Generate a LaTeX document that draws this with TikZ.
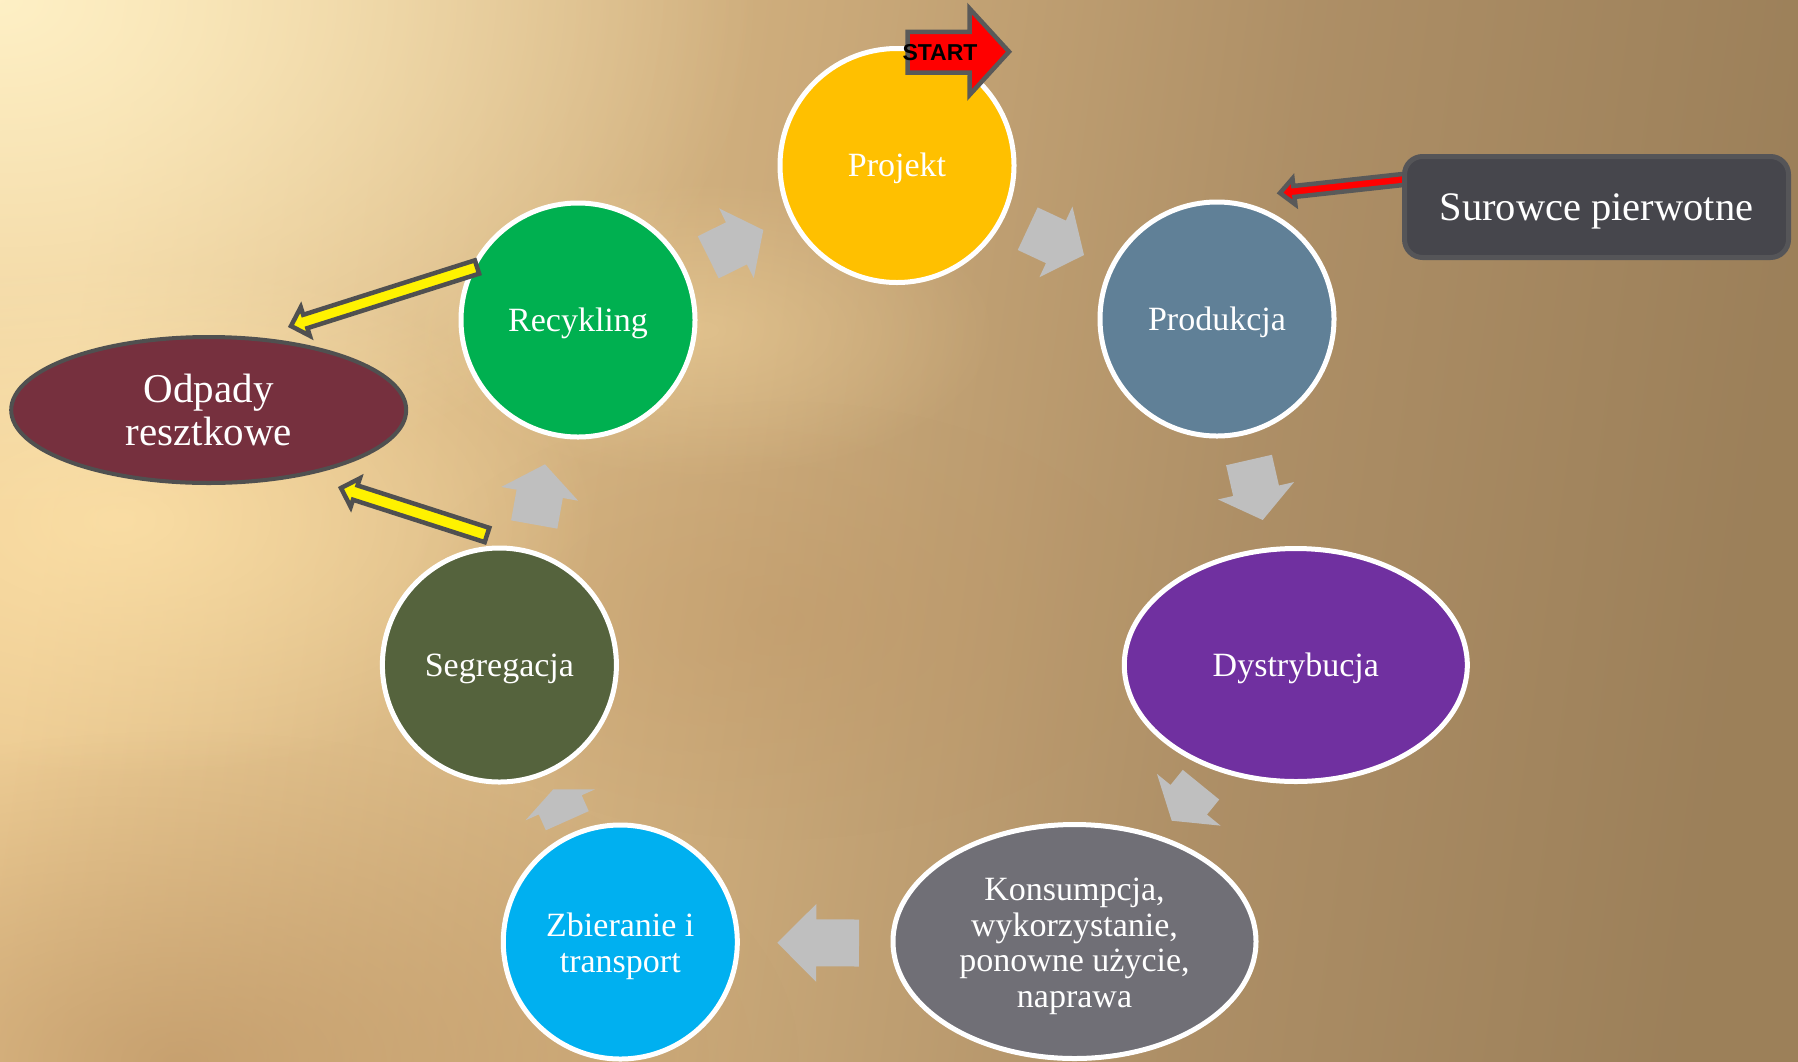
\documentclass[tikz,border=0pt]{standalone}
\usepackage{fontspec}
\setmainfont{Liberation Serif}
\newfontfamily\startfont{Liberation Sans}
\usetikzlibrary{shapes.geometric,calc,fadings}

\definecolor{cProj}{RGB}{255,192,0}
\definecolor{cProd}{RGB}{96,128,151}
\definecolor{cRec}{RGB}{0,176,80}
\definecolor{cSeg}{RGB}{85,99,61}
\definecolor{cZb}{RGB}{0,176,240}
\definecolor{cDys}{RGB}{112,48,160}
\definecolor{cKon}{RGB}{112,111,118}
\definecolor{cOdp}{RGB}{118,48,62}
\definecolor{cArr}{RGB}{191,191,191}
\definecolor{cOut}{RGB}{80,80,80}
\definecolor{cRedOut}{RGB}{89,89,89}
\definecolor{cBox}{RGB}{70,70,76}
\definecolor{cBoxB}{RGB}{85,85,88}
\definecolor{glowA}{RGB}{255,242,200}
\definecolor{glowB}{RGB}{255,228,170}
\definecolor{shadeC}{RGB}{190,150,102}

\tikzfading[name=myglow, inner color=transparent!0, outer color=transparent!100]

\pgfdeclarehorizontalshading{bgshade}{100bp}{%
  rgb(0bp)=(0.93,0.80,0.58); rgb(25bp)=(0.93,0.80,0.58);
  rgb(45bp)=(0.80,0.67,0.48); rgb(60bp)=(0.68,0.56,0.40);
  rgb(75bp)=(0.61,0.50,0.35); rgb(100bp)=(0.61,0.50,0.35)}

% block arrow: #1 style, #2 tail, #3 tip, #4 shaft half width, #5 head half width, #6 head length
\newcommand\blockarr[6]{%
  \coordinate (tmpB) at ($(#3)!#6!(#2)$);
  \path[#1] ($(#2)!#4!90:(#3)$) -- ($(tmpB)!#4!90:(#3)$) -- ($(tmpB)!#5!90:(#3)$)
    -- (#3) -- ($(tmpB)!#5!-90:(#3)$) -- ($(tmpB)!#4!-90:(#3)$) -- ($(#2)!#4!-90:(#3)$) -- cycle;}

\tikzset{
  circ/.style={circle, draw=white, line width=5pt, minimum size=234pt, inner sep=0pt,
    text=white, align=center, font=\fontsize{34pt}{36pt}\selectfont},
  ell/.style={ellipse, draw=white, line width=5pt, inner sep=0pt,
    text=white, align=center, font=\fontsize{34pt}{35.5pt}\selectfont},
  oneline/.style={text height=22.5pt, text depth=0pt},
  grayarr/.style={fill=cArr},
  yelarr/.style={fill=yellow, draw=cOut, line width=4.5pt, line join=miter},
  redarr/.style={fill=red, draw=cRedOut, line width=4.5pt, line join=miter},
}

\begin{document}
\begin{tikzpicture}[x=1pt,y=-1pt]
\useasboundingbox (0,0) rectangle (1798,1061);
\clip (0,0) rectangle (1798,1061);
% background
\shade[shading=bgshade, shading angle=-8] (0,0) rectangle (1798,1061);
\fill[shadeC, path fading=myglow, fill opacity=0.75] (180,1061) ellipse (620pt and 330pt);
\fill[shadeC, path fading=myglow, fill opacity=0.4] (780,620) ellipse (380pt and 220pt);
\fill[glowB, path fading=myglow, fill opacity=0.75] (120,520) ellipse (480pt and 260pt);
\fill[glowA, path fading=myglow, fill opacity=0.95] (0,0) ellipse (760pt and 520pt);
\fill[glowB, path fading=myglow, fill opacity=0.35] (700,330) ellipse (300pt and 150pt);

% nodes
\node[circ, oneline, fill=cProj] (proj) at (897,165.5) {Projekt};
\node[circ, oneline, fill=cProd] (prod) at (1217,319) {Produkcja};
\node[circ, oneline, fill=cRec] (rec) at (578,320) {Recykling};
\node[circ, oneline, fill=cSeg] (seg) at (499.4,665) {Segregacja};
\node[circ, fill=cZb, font=\fontsize{34pt}{36.7pt}\selectfont] (zb) at (620.3,942)
  {\rule{0pt}{32pt}Zbieranie i\\transport};
\node[ell, oneline, fill=cDys, minimum width=343pt, minimum height=233pt] (dys) at (1295.8,665) {Dystrybucja};
\node[ell, fill=cKon, minimum width=363pt, minimum height=234pt] (kon) at (1074.5,941.5)
  {\rule{0pt}{32pt}Konsumpcja,\\wykorzystanie,\\ponowne użycie,\\naprawa};
\node[ellipse, draw=cOut, line width=4pt, fill=cOdp, minimum width=395pt, minimum height=146pt,
  inner sep=0pt, text=white, align=center, font=\fontsize{41pt}{42.4pt}\selectfont] (odp) at (208.7,410)
  {Odpady\\resztkowe};

% gray cycle arrows
\coordinate (a1t) at (708.3,257.3);  \coordinate (a1h) at (763.3,230);
\coordinate (a2t) at (1027.7,228.7); \coordinate (a2h) at (1084,255);
\coordinate (a3t) at (1249,460);     \coordinate (a3h) at (1262.7,520);
\coordinate (a4t) at (1201,784.7);   \coordinate (a4h) at (1171.7,820.7);
\coordinate (a5t) at (859,943);      \coordinate (a5h) at (777.3,942.7);
\coordinate (a6t) at (567.3,820.7);  \coordinate (a6h) at (553.3,789.3);
\coordinate (a7t) at (534.2,524.5);  \coordinate (a7h) at (545,464.3);
\blockarr{grayarr}{a1t}{a1h}{23.5pt}{39pt}{30pt}
\blockarr{grayarr}{a2t}{a2h}{23.5pt}{39pt}{31pt}
\blockarr{grayarr}{a3t}{a3h}{23.5pt}{39pt}{30pt}
\blockarr{grayarr}{a4t}{a4h}{23.5pt}{41pt}{27pt}
\blockarr{grayarr}{a5t}{a5h}{23.5pt}{39pt}{39pt}
\blockarr{grayarr}{a6t}{a6h}{23.5pt}{38pt}{17pt}
\blockarr{grayarr}{a7t}{a7h}{23.5pt}{39pt}{30pt}

% yellow arrows to residual waste
\coordinate (y1t) at (477,267);  \coordinate (y1h) at (291,326);
\coordinate (y2t) at (487,535);  \coordinate (y2h) at (341,488);
\blockarr{yelarr}{y1t}{y1h}{7pt}{15pt}{15pt}
\blockarr{yelarr}{y2t}{y2h}{7.5pt}{15pt}{15pt}

% primary raw materials
\coordinate (r1t) at (1412,178.5); \coordinate (r1h) at (1280,193);
\blockarr{redarr}{r1t}{r1h}{5.5pt}{13pt}{14pt}
\node[draw=cBoxB, line width=5pt, fill=cBox, rounded corners=18pt, minimum width=384pt,
  minimum height=101pt, inner sep=0pt, text=white, text height=26.8pt, text depth=0pt,
  font=\fontsize{40.5pt}{42pt}\selectfont] (box) at (1596.5,207) {Surowce pierwotne};

% START arrow
\path[redarr] (907.5,31.8) -- (969.5,31.8) -- (969.5,8.5) -- (1009,51.7) -- (969.5,95)
  -- (969.5,72.5) -- (907.5,72.5) -- cycle;
\node[anchor=base, inner sep=0pt, font=\startfont\bfseries\fontsize{23pt}{25pt}\selectfont] (start) at (940,60) {START};
\end{tikzpicture}
\end{document}
